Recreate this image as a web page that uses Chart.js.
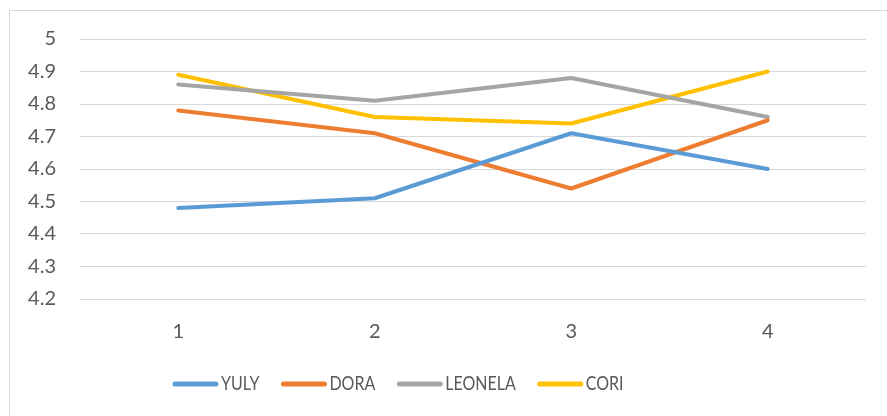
<!DOCTYPE html>
<html>
<head>
<meta charset="utf-8">
<script src="https://cdn.jsdelivr.net/npm/chart.js@4/dist/chart.umd.min.js"></script>
<style>
  html, body { margin: 0; padding: 0; background: #fff; }
  #wrap { position: relative; width: 887px; height: 416px; overflow: hidden; }
  #frame { position: absolute; left: 9px; top: 10px; width: 900px; height: 430px; border: 1px solid #d9d9d9; box-sizing: border-box; }
  canvas { position: absolute; left: 0; top: 0; }
</style>
</head>
<body>
<div id="wrap">
  <div id="frame"></div>
  <canvas id="chart" width="887" height="416"></canvas>
</div>
<script>
// Datos
const categorias = ['1', '2', '3', '4'];
const yuly = [4.48, 4.51, 4.71, 4.60];
const dora = [4.78, 4.71, 4.54, 4.75];
const leonela = [4.86, 4.81, 4.88, 4.76];
const cori = [4.89, 4.76, 4.74, 4.90];

const textColor = '#595959';
const fuente = 'Lato, "Liberation Sans", sans-serif';

function serie(label, data, color) {
    return {
        label: label,
        data: data,
        borderColor: color,
        backgroundColor: color,
        borderWidth: 4,
        borderCapStyle: 'round',
        borderJoinStyle: 'round',
        pointRadius: 0,
        tension: 0,
        fill: false
    };
}

// Leyenda propia: muestra de línea + texto (texto estrecho, como en Excel)
const leyendaExcel = {
    id: 'leyendaExcel',
    afterDraw(chart) {
        const c = chart.ctx;
        const estrecho = 0.8;
        let x = 173;
        const y = 384;
        c.save();
        c.font = '20px ' + fuente;
        c.textBaseline = 'middle';
        c.lineCap = 'round';
        c.lineWidth = 5;
        chart.data.datasets.forEach(ds => {
            c.strokeStyle = ds.borderColor;
            c.beginPath();
            c.moveTo(x + 2, y);
            c.lineTo(x + 43, y);
            c.stroke();
            x += 48;
            c.save();
            c.translate(x, y);
            c.scale(estrecho, 1);
            c.fillStyle = textColor;
            c.fillText(ds.label, 0, 0);
            c.restore();
            x += c.measureText(ds.label).width * estrecho + 22;
        });
        c.restore();
    }
};

const ctx = document.getElementById('chart').getContext('2d');
new Chart(ctx, {
    type: 'line',
    data: {
        labels: categorias,
        datasets: [
            serie('YULY', yuly, '#5b9bd5'),
            serie('DORA', dora, '#ed7d31'),
            serie('LEONELA', leonela, '#a5a5a5'),
            serie('CORI', cori, '#ffc000')
        ]
    },
    plugins: [leyendaExcel],
    options: {
        responsive: false,
        animation: false,
        layout: { padding: { left: 10, right: 21, top: 39, bottom: 61 } },
        plugins: {
            legend: { display: false },
            tooltip: { enabled: false }
        },
        scales: {
            x: {
                offset: true,
                grid: { display: false, drawTicks: false },
                border: { display: false },
                ticks: { color: textColor, padding: 21, font: { family: fuente, size: 20 } },
                afterFit: (scale) => { scale.height = 56; }
            },
            y: {
                min: 4.2,
                max: 5,
                grid: { color: '#d9d9d9', lineWidth: 1, drawTicks: false },
                border: { display: false },
                ticks: {
                    stepSize: 0.1,
                    color: textColor,
                    padding: 24,
                    font: { family: fuente, size: 20 },
                    callback: (v) => Math.round(v * 10) / 10
                },
                afterFit: (scale) => { scale.width = 70; }
            }
        }
    }
});
</script>
</body>
</html>
